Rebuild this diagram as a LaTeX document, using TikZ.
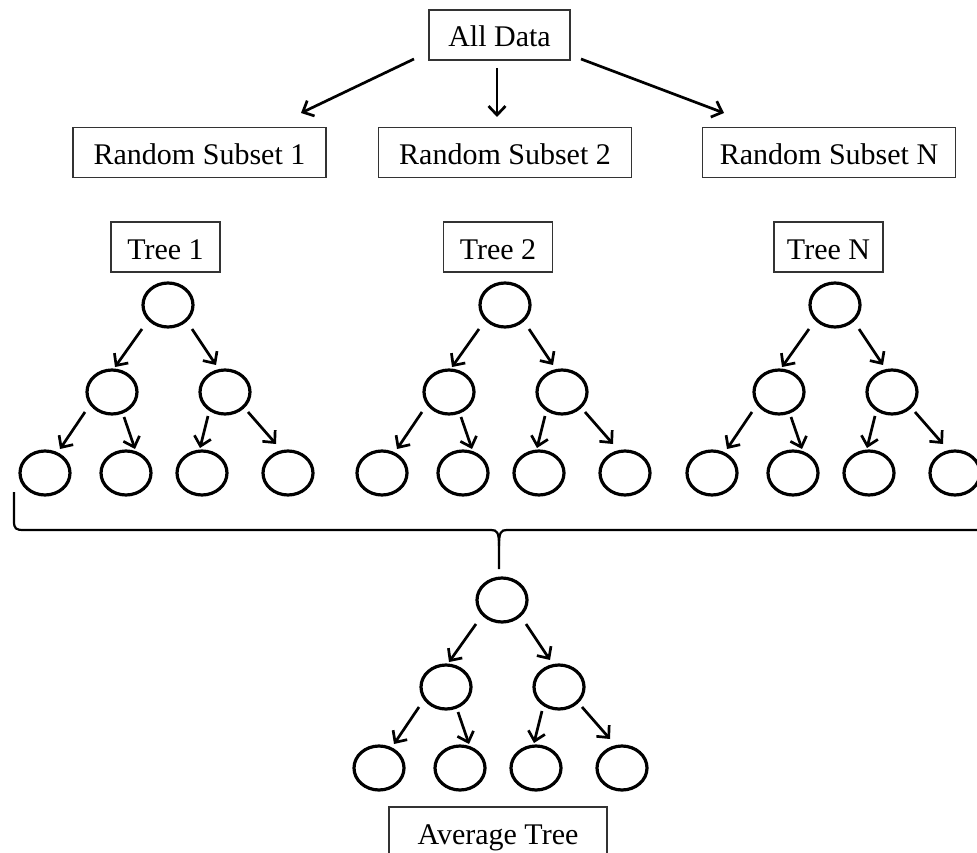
\documentclass[tikz,border=0pt]{standalone}
\usepackage{fontspec}
\setmainfont{Liberation Serif}
\usetikzlibrary{arrows.meta,calc,shapes.geometric}

\tikzset{
  lbl/.style={draw=black!80, line width=1.3pt, minimum height=50pt, inner sep=0pt,
    font=\fontsize{30}{36}\selectfont, text height=24pt, text depth=0pt},
  nd/.style={ellipse, draw, line width=3.2pt, minimum width=50pt, minimum height=44pt, inner sep=0pt},
  arr/.style={-{Straight Barb[length=9pt,width=17pt]}, line width=2.7pt},
  brace/.style={line width=2.2pt},
}

% A binary tree of depth two: #1 name prefix, (#2,#3) root centre
\newcommand\rftree[3]{%
  \node[nd] (#1r) at (#2,#3) {};
  \node[nd] (#1a) at ($(#1r)+(-56,87)$) {};
  \node[nd] (#1b) at ($(#1r)+(57,87)$) {};
  \node[nd] (#1l1) at ($(#1r)+(-123,168)$) {};
  \node[nd] (#1l2) at ($(#1r)+(-42,168)$) {};
  \node[nd] (#1l3) at ($(#1r)+(34,168)$) {};
  \node[nd] (#1l4) at ($(#1r)+(120,168)$) {};
  \draw[arr] ($(#1r)+(-26,24)$) -- ($(#1a)+(3,-25)$);
  \draw[arr] ($(#1r)+(24,24)$) -- ($(#1b)+(-9,-27)$);
  \draw[arr] ($(#1a)+(-27,20)$) -- ($(#1l1)+(15,-24)$);
  \draw[arr] ($(#1a)+(12,25)$) -- ($(#1l2)+(9,-24)$);
  \draw[arr] ($(#1b)+(-17,24)$) -- ($(#1l3)+(-2,-25)$);
  \draw[arr] ($(#1b)+(23,20)$) -- ($(#1l4)+(-12,-29)$);
}

\begin{document}
\begin{tikzpicture}[x=1pt, y=-1pt]
  \useasboundingbox (0,0) rectangle (977,853);

  % data and its random subsets
  \node[lbl, minimum width=141pt] (all) at (499.5,35) {All Data};
  \node[lbl, minimum width=253pt] (rs1) at (199.5,152.5) {Random Subset 1};
  \node[lbl, minimum width=253pt] (rs2) at (505,152.5) {Random Subset 2};
  \node[lbl, minimum width=253pt] (rsn) at (829,152.5) {Random Subset N};

  \draw[arr] ($(all)+(-85.5,24)$) -- ($(rs1)+(101.5,-39.5)$);
  \draw[arr] ($(all)+(-2.5,33)$) -- ($(rs2)+(-8,-35.5)$);
  \draw[arr] ($(all)+(81.5,24)$) -- ($(rsn)+(-105,-39.5)$);

  % the individual trees
  \node[lbl, minimum width=109pt] (t1) at (165.5,247) {Tree 1};
  \node[lbl, minimum width=109pt] (t2) at (498,247) {Tree 2};
  \node[lbl, minimum width=109pt] (tn) at (828.5,247) {Tree N};

  \rftree{a}{168}{305}
  \rftree{b}{505}{305}
  \rftree{c}{835}{305}

  % brace gathering all trees
  \coordinate (bl) at (14,492);
  \coordinate (bm) at (499,569);
  \coordinate (br) at (990,530);
  \draw[brace] (bl) -- (14,521) .. controls (14,529) and (16,530) .. (24,530)
    -- (491,530) .. controls (497,530) and (499,532) .. (499,546) -- (bm);
  \draw[brace] (499,546) .. controls (499,532) and (501,530) .. (507,530) -- (br);

  % the averaged tree
  \rftree{m}{502}{600}
  \node[lbl, minimum width=218pt] (avg) at (498,832) {Average Tree};
\end{tikzpicture}
\end{document}
